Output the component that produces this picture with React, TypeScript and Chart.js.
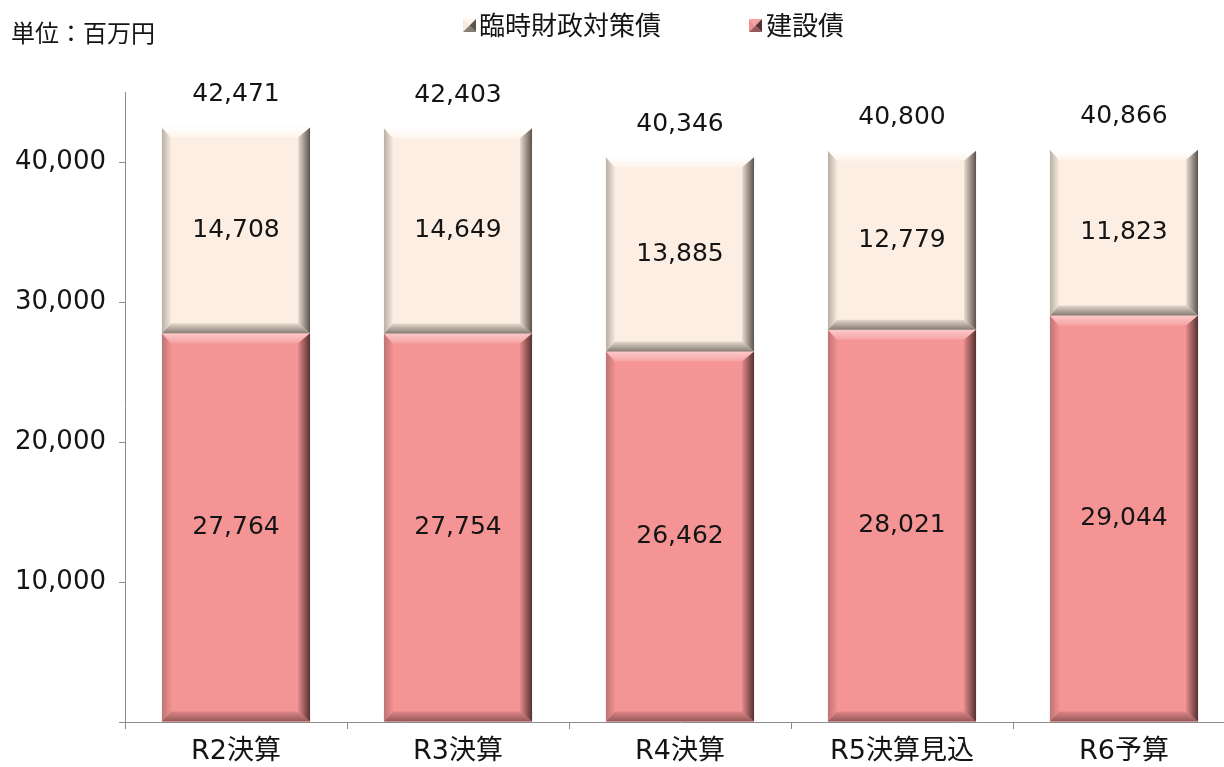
import React, { useEffect, useRef } from "react";
import { Chart, registerables } from "chart.js";

Chart.register(...registerables);

const categories = ["R2決算", "R3決算", "R4決算", "R5決算見込", "R6予算"];
const kensetsuValues = [27764, 27754, 26462, 28021, 29044];
const rinjiValues = [14708, 14649, 13885, 12779, 11823];
const totalValues = [42471, 42403, 40346, 40800, 40866];
const seriesNames = ["臨時財政対策債", "建設債"];
const unitLabel = "単位：百万円";
const yMax = 45000;
const yTickValues = [0, 10000, 20000, 30000, 40000];

const NUM_FONT = "'DejaVu Sans', 'Noto Sans CJK JP', sans-serif";
const JP_FONT = "'Noto Sans CJK JP', 'DejaVu Sans', sans-serif";
const TEXT = "#141414";
const AXIS = "#8c8c8c";

type Bevel = { face: string; top: [string, string]; left: [string, string]; right: [string, string]; bottom: [string, string] };

const bevelUpper: Bevel = {
  face: "#FDEEE3",
  top: ["#FFFFFF", "#FEF4EC"],
  left: ["#B9AFA5", "#F6E9DE"],
  right: ["#EADCD0", "#5C534D"],
  bottom: ["#E6D8CC", "#867C74"],
};
const bevelLower: Bevel = {
  face: "#F49494",
  top: ["#FCCACA", "#F6A2A2"],
  left: ["#BE7474", "#F09090"],
  right: ["#E58A8A", "#553131"],
  bottom: ["#DC8585", "#965858"],
};

const fmt = (v: number) => v.toLocaleString("en-US");

function drawBevelRect(ctx: CanvasRenderingContext2D, L: number, T: number, R: number, B: number, c: Bevel) {
  const bt = 10, bl = 9, br = 12, bb = 10;
  const iL = L + bl, iT = T + bt, iR = R - br, iB = B - bb;
  let g: CanvasGradient;
  g = ctx.createLinearGradient(L, 0, iL, 0);
  g.addColorStop(0, c.left[0]);
  g.addColorStop(1, c.left[1]);
  ctx.fillStyle = g;
  ctx.beginPath();
  ctx.moveTo(L, T); ctx.lineTo(iL, iT); ctx.lineTo(iL, iB); ctx.lineTo(L, B); ctx.closePath();
  ctx.fill();
  g = ctx.createLinearGradient(0, T, 0, iT);
  g.addColorStop(0, c.top[0]);
  g.addColorStop(1, c.top[1]);
  ctx.fillStyle = g;
  ctx.beginPath();
  ctx.moveTo(L, T); ctx.lineTo(R, T); ctx.lineTo(iR, iT); ctx.lineTo(iL, iT); ctx.closePath();
  ctx.fill();
  g = ctx.createLinearGradient(0, iB, 0, B);
  g.addColorStop(0, c.bottom[0]);
  g.addColorStop(1, c.bottom[1]);
  ctx.fillStyle = g;
  ctx.beginPath();
  ctx.moveTo(L, B); ctx.lineTo(iL, iB); ctx.lineTo(iR, iB); ctx.lineTo(R, B); ctx.closePath();
  ctx.fill();
  g = ctx.createLinearGradient(iR, 0, R, 0);
  g.addColorStop(0, c.right[0]);
  g.addColorStop(1, c.right[1]);
  ctx.fillStyle = g;
  ctx.beginPath();
  ctx.moveTo(R, T); ctx.lineTo(R, B); ctx.lineTo(iR, iB); ctx.lineTo(iR, iT); ctx.closePath();
  ctx.fill();
}

function drawMarker(ctx: CanvasRenderingContext2D, x: number, y: number, s: number, c: Bevel) {
  const cx = x + s / 2, cy = y + s / 2;
  const tri = (pts: number[][], col: string) => {
    ctx.fillStyle = col;
    ctx.beginPath();
    ctx.moveTo(pts[0][0], pts[0][1]);
    ctx.lineTo(pts[1][0], pts[1][1]);
    ctx.lineTo(pts[2][0], pts[2][1]);
    ctx.closePath();
    ctx.fill();
  };
  tri([[x, y], [x + s, y], [cx, cy]], c.top[1]);
  tri([[x, y], [cx, cy], [x, y + s]], c.left[1]);
  tri([[x, y + s], [cx, cy], [x + s, y + s]], c.bottom[1]);
  tri([[x + s, y], [x + s, y + s], [cx, cy]], c.right[1]);
}

const bevelPlugin = {
  id: "bevelAndLabels",
  afterDatasetsDraw(chart: any) {
    const ctx: CanvasRenderingContext2D = chart.ctx;
    ctx.save();
    chart.data.datasets.forEach((ds: any, di: number) => {
      const meta = chart.getDatasetMeta(di);
      const bev: Bevel = ds.bevel;
      meta.data.forEach((el: any) => {
        const p = el.getProps(["x", "y", "base", "width"], true);
        const L = p.x - p.width / 2, R = p.x + p.width / 2;
        const T = Math.min(p.y, p.base), B = Math.max(p.y, p.base);
        drawBevelRect(ctx, L, T, R, B, bev);
      });
    });
    ctx.fillStyle = TEXT;
    ctx.textAlign = "center";
    ctx.textBaseline = "middle";
    ctx.font = `25px ${NUM_FONT}`;
    chart.data.datasets.forEach((ds: any, di: number) => {
      const meta = chart.getDatasetMeta(di);
      meta.data.forEach((el: any, i: number) => {
        const p = el.getProps(["x", "y", "base"], true);
        ctx.fillText(fmt(ds.data[i]), p.x, (p.y + p.base) / 2);
      });
    });
    const topMeta = chart.getDatasetMeta(chart.data.datasets.length - 1);
    topMeta.data.forEach((el: any, i: number) => {
      const p = el.getProps(["x", "y"], true);
      ctx.fillText(fmt(totalValues[i]), p.x, p.y - 33);
    });
    ctx.restore();
  },
  afterDraw(chart: any) {
    const ctx: CanvasRenderingContext2D = chart.ctx;
    ctx.save();
    ctx.fillStyle = TEXT;
    ctx.textBaseline = "middle";
    ctx.textAlign = "left";
    ctx.font = `24px ${JP_FONT}`;
    ctx.fillText(unitLabel, 11, 33);
    ctx.font = `26px ${JP_FONT}`;
    drawMarker(ctx, 463, 19, 13, bevelUpper);
    ctx.fillStyle = TEXT;
    ctx.fillText(seriesNames[0], 479, 25);
    drawMarker(ctx, 749, 19, 13, bevelLower);
    ctx.fillStyle = TEXT;
    ctx.fillText(seriesNames[1], 766, 25);
    ctx.restore();
  },
};

export default function App() {
  const ref = useRef<HTMLCanvasElement | null>(null);
  useEffect(() => {
    if (!ref.current) return;
    const chart = new Chart(ref.current, {
      type: "bar",
      data: {
        labels: categories,
        datasets: [
          { label: seriesNames[1], data: kensetsuValues, backgroundColor: bevelLower.face, borderWidth: 0, bevel: bevelLower } as any,
          { label: seriesNames[0], data: rinjiValues, backgroundColor: bevelUpper.face, borderWidth: 0, bevel: bevelUpper } as any,
        ],
      },
      options: {
        responsive: false,
        animation: false,
        devicePixelRatio: 1,
        layout: { padding: { top: 92, right: 1, left: 0, bottom: 0 } },
        datasets: { bar: { categoryPercentage: 1, barPercentage: 0.667 } },
        plugins: { legend: { display: false }, tooltip: { enabled: false }, title: { display: false } },
        scales: {
          x: {
            stacked: true,
            offset: true,
            grid: { display: true, drawOnChartArea: false, drawTicks: true, tickLength: 7, tickColor: AXIS, offset: true },
            border: { display: true, color: AXIS, width: 1 },
            ticks: { color: TEXT, font: { family: NUM_FONT, size: 27 }, padding: 7, maxRotation: 0, autoSkip: false },
            afterFit: (s: any) => { s.height = 45; },
          },
          y: {
            stacked: true,
            min: 0,
            max: yMax,
            grid: { display: true, drawOnChartArea: false, drawTicks: true, tickLength: 6, tickColor: AXIS },
            border: { display: true, color: AXIS, width: 1 },
            ticks: {
              color: TEXT,
              font: { family: NUM_FONT, size: 26 },
              padding: 13,
              callback: (v: any) => (v === 0 ? "" : fmt(Number(v))),
            },
            afterBuildTicks: (s: any) => { s.ticks = yTickValues.map((v) => ({ value: v })); },
            afterFit: (s: any) => { s.width = 125; },
          },
        },
      },
      plugins: [bevelPlugin],
    } as any);
    return () => chart.destroy();
  }, []);
  return (
    <div style={{ position: "absolute", left: 0, top: 0, width: 1224, height: 767, overflow: "hidden", background: "#fff" }}>
      <canvas ref={ref} width={1236} height={767} style={{ display: "block", width: 1236, height: 767 }} />
    </div>
  );
}
